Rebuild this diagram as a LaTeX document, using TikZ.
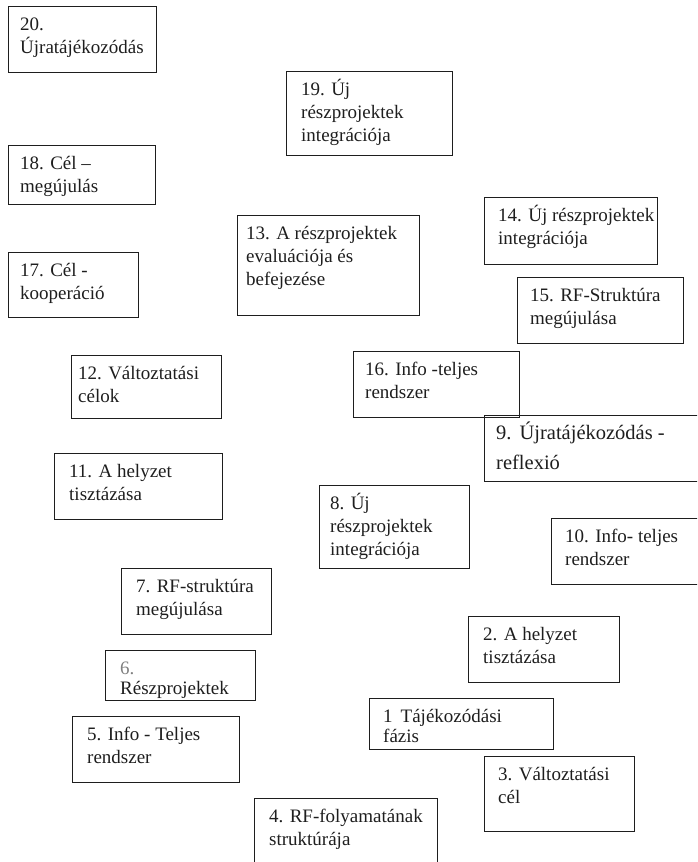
\documentclass[tikz,border=0pt]{standalone}
\usepackage{fontspec}
\setmainfont{Liberation Serif}
\definecolor{ink}{HTML}{1E1E1E}
\tikzset{
  bx/.style={draw=ink, line width=1.2pt, inner sep=0pt, anchor=north west},
  lbl/.style={anchor=base west, inner sep=0pt, text=ink, font=\fontsize{19}{23}\selectfont},
  biglbl/.style={lbl, font=\fontsize{20.5}{30}\selectfont}
}
% name, x, y, w, h, pad, style, lines
\newcommand{\phasebox}[8]{%
  \node[bx, minimum width=#4pt, minimum height=#5pt] (b#1) at (#2,#3) {};
  \node[#7] (t#1) at (#2+#6,#3+24) {\begin{tabular}[t]{@{}l@{}}#8\end{tabular}};
}
\begin{document}
\begin{tikzpicture}[x=1pt,y=-1pt]
\clip (0,0) rectangle (697,862);
\fill[white] (0,0) rectangle (697,862);
\phasebox{20}{8}{6}{148}{66}{12}{lbl}{20.\\Újratájékozódás}
\phasebox{19}{286}{71}{166}{84}{15}{lbl}{19. Új\\részprojektek\\integrációja}
\phasebox{18}{8}{145}{147}{59}{12}{lbl}{18. Cél –\\megújulás}
\phasebox{17}{8}{252}{130}{65}{12}{lbl}{17. Cél -\\kooperáció}
\phasebox{13}{237}{215}{182}{100}{9}{lbl}{13. A részprojektek\\evaluációja és\\befejezése}
\phasebox{14}{484}{197}{173}{67}{14}{lbl}{14. Új részprojektek\\integrációja}
\phasebox{15}{517}{277}{166}{66}{13}{lbl}{15. RF-Struktúra\\megújulása}
\phasebox{12}{71}{355}{150}{63}{7}{lbl}{12. Változtatási\\célok}
\phasebox{16}{353}{351}{166}{66}{12}{lbl}{16. Info -teljes\\rendszer}
\phasebox{9}{484}{415}{230}{66}{12}{biglbl}{9.\hspace{8pt}Újratájékozódás -\\reflexió}
\phasebox{11}{54}{453}{168}{66}{15}{lbl}{11. A helyzet\\tisztázása}
\phasebox{8}{319}{485}{150}{83}{11}{lbl}{8. Új\\részprojektek\\integrációja}
\phasebox{10}{551}{518}{160}{66}{14}{lbl}{10. Info- teljes\\rendszer}
\phasebox{7}{121}{568}{150}{66}{15}{lbl}{7. RF-struktúra\\megújulása}
\phasebox{2}{468}{616}{151}{66}{15}{lbl}{2. A helyzet\\tisztázása}
\phasebox{6}{105}{650}{150}{50}{15}{lbl}{\textcolor{gray}{6.}\\[-3pt]Részprojektek}
\phasebox{1}{369}{698}{184}{51}{14}{lbl}{1\hspace{8pt}Tájékozódási\\[-3pt]fázis}
\phasebox{5}{72}{716}{167}{66}{15}{lbl}{5. Info - Teljes\\rendszer}
\phasebox{3}{484}{756}{150}{75}{14}{lbl}{3. Változtatási\\cél}
\phasebox{4}{254}{798}{183}{80}{15}{lbl}{4. RF-folyamatának\\struktúrája}
\end{tikzpicture}
\end{document}
